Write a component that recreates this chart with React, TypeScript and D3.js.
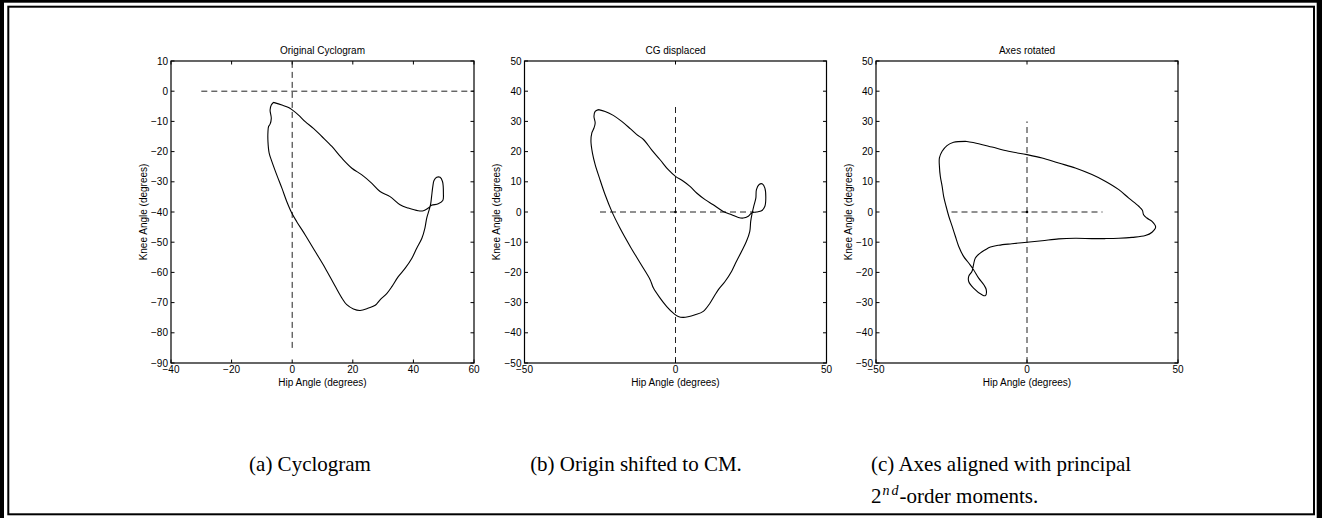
import React from "react";
import * as d3 from "d3";

// ---------- data ----------
const plotTitles = ["Original Cyclogram", "CG displaced", "Axes rotated"];
const xLabel = "Hip Angle (degrees)";
const yLabel = "Knee Angle (degrees)";

const xDomain1 = [-40, 60];
const yDomain1 = [-90, 10];
const xTicks1 = [-40, -20, 0, 20, 40, 60];
const yTicks1 = [-90, -80, -70, -60, -50, -40, -30, -20, -10, 0, 10];

const xDomain23 = [-50, 50];
const yDomain23 = [-50, 50];
const xTicks23 = [-50, 0, 50];
const yTicks23 = [-50, -40, -30, -20, -10, 0, 10, 20, 30, 40, 50];

// dashed reference lines: [x1, y1, x2, y2]
const refLines1 = [[-30, 0, 60, 0], [0, -85, 0, 10]];
const refLines2 = [[-25, 0, 26, 0], [0, -50, 0, 35]];
const refLines3 = [[-25, 0, 25, 0], [0, -50, 0, 30]];

const cyclogram1 = [
  [-6.2, -3.7], [-3.4, -4.6], [-1.2, -5.4], [0, -6.2], [2.1, -7.9], [4.3, -10.1], [7.0, -12.3],
  [9.8, -15.0], [13.1, -18.3], [16.4, -22.2], [19.7, -25.5], [23.0, -27.7], [26.3, -30.5],
  [29.0, -33.2], [32.3, -34.9], [35.6, -37.6], [38.3, -38.7], [41.6, -39.6], [43.3, -39.6],
  [44.9, -38.7], [46.0, -37.8], [48.2, -37.3], [49.7, -36.2], [49.9, -33.8], [49.6, -29.9],
  [48.8, -28.5], [47.7, -28.5], [46.8, -29.6], [46.4, -31.6], [46.0, -34.9], [45.7, -37.3],
  [45.2, -39.3], [44.4, -42.0], [43.8, -45.3], [42.8, -48.7], [41.1, -52.0], [39.5, -55.3],
  [37.3, -58.6], [35.0, -61.4], [32.9, -64.7], [31.2, -67.0], [29.0, -69.1], [27.4, -70.9],
  [25.2, -71.8], [22.4, -72.6], [20.2, -72.1], [18.0, -70.7], [16.6, -68.8], [14.2, -64.6],
  [10.9, -58.6], [7.6, -53.1], [4.3, -47.6], [1.5, -43.2], [-0.1, -40.4], [-1.8, -36.5],
  [-3.4, -32.1], [-5.1, -27.7], [-6.7, -23.3], [-7.6, -20.5], [-8.0, -16.7], [-8.0, -13.4],
  [-7.8, -11.7], [-7.3, -10.9], [-6.9, -9.0], [-7.3, -6.2], [-6.9, -4.6], [-6.2, -3.7],
];

const cyclogram2 = [
  [-25.5, 33.9], [-23.3, 33.3], [-20.6, 32.0], [-17.8, 30.0], [-15.0, 27.6], [-12.8, 25.6],
  [-10.6, 24.0], [-7.9, 20.6], [-5.1, 17.3], [-2.4, 14.0], [0, 11.8], [2.6, 10.2], [4.8, 8.5],
  [7.0, 6.3], [9.8, 4.1], [12.5, 2.4], [15.8, 0.2], [18.6, -0.9], [20.8, -1.8], [22.4, -2.0],
  [24.1, -1.4], [25.2, -0.3], [26.8, 0], [28.5, 0.4], [29.6, 1.9], [29.9, 4.6], [29.6, 7.9],
  [28.8, 9.3], [27.7, 9.1], [26.8, 7.4], [26.6, 4.6], [25.9, 1.9], [25.4, -0.3], [24.9, -3.1],
  [24.6, -6.4], [23.5, -9.7], [21.9, -13.0], [20.2, -16.3], [18.6, -19.6], [16.4, -23.0],
  [14.2, -25.7], [13.1, -27.4], [11.4, -30.2], [9.2, -32.9], [6.5, -34.0], [2.6, -34.9],
  [0.9, -34.6], [-0.7, -33.5], [-2.9, -31.3], [-5.1, -28.5], [-7.3, -25.2], [-8.4, -22.4],
  [-11.7, -16.9], [-15.0, -11.4], [-18.4, -5.3], [-21.1, 0.2], [-23.3, 5.7], [-25.2, 11.3],
  [-26.6, 15.7], [-27.5, 19.5], [-28.0, 23.4], [-27.7, 26.2], [-27.0, 27.8], [-26.6, 29.5],
  [-27.0, 31.7], [-26.6, 33.3], [-25.5, 33.9],
];

const cyclogram3 = [
  [-20.4, 23.4], [-16.0, 22.6], [-11.6, 21.5], [-6.1, 20.1], [0, 19.0], [5.0, 17.9],
  [10.5, 16.2], [16.0, 14.6], [21.5, 12.4], [25.9, 10.2], [30.4, 7.4], [33.7, 4.6],
  [37.0, 1.9], [38.2, 0.6], [38.6, -0.9], [39.7, -2.0], [41.4, -3.1], [42.6, -5.0],
  [41.4, -6.7], [39.2, -7.8], [34.8, -8.4], [30.4, -8.7], [25.9, -8.8], [21.5, -8.8],
  [16.0, -8.7], [10.5, -8.9], [5.0, -9.5], [0, -10.0], [-5.0, -10.5], [-9.4, -11.0],
  [-12.1, -11.6], [-13.8, -12.5], [-15.5, -13.6], [-17.1, -15.2], [-17.7, -17.4],
  [-18.2, -19.6], [-19.3, -21.3], [-19.3, -23.0], [-17.7, -25.2], [-14.9, -27.4],
  [-13.8, -27.7], [-13.5, -25.7], [-14.3, -24.1], [-16.0, -21.9], [-17.7, -19.1],
  [-19.3, -16.9], [-21.0, -14.7], [-22.6, -11.4], [-23.7, -8.1], [-24.8, -4.7],
  [-25.9, -1.4], [-26.8, 1.9], [-27.6, 5.2], [-28.1, 8.5], [-28.7, 11.8], [-29.0, 15.1],
  [-29.0, 17.9], [-28.1, 20.1], [-26.5, 22.0], [-24.3, 23.1], [-20.4, 23.4],
];

const captionA = "(a) Cyclogram";
const captionB = "(b) Origin shifted to CM.";
const captionC1 = "(c) Axes aligned with principal";
const captionC2a = "2";
const captionC2sup = "nd";
const captionC2b = "-order moments.";

// ---------- layout ----------
const W = 1322;
const H = 518;
const SANS = "'Liberation Sans', Arial, Helvetica, sans-serif";
const SERIF = "'Liberation Serif', 'Times New Roman', serif";

type PlotProps = {
  left: number; top: number; width: number; height: number;
  xDomain: number[]; yDomain: number[]; xTicks: number[]; yTicks: number[];
  title: string; data: number[][]; refs: number[][]; dot: boolean;
};

const fmt = (v: number) => (v < 0 ? "\u2212" + Math.abs(v) : String(v));

function Plot(p: PlotProps) {
  const x = d3.scaleLinear().domain(p.xDomain).range([p.left, p.left + p.width]);
  const y = d3.scaleLinear().domain(p.yDomain).range([p.top + p.height, p.top]);
  const line = d3.line<number[]>().x((d) => x(d[0])).y((d) => y(d[1])).curve(d3.curveCatmullRom.alpha(0.5));
  const tl = 3.5;
  const bottom = p.top + p.height;
  const right = p.left + p.width;
  return (
    <g>
      <text x={p.left + p.width / 2} y={p.top - 7.5} fontSize={10} fontFamily={SANS} textAnchor="middle">{p.title}</text>
      {p.refs.map((r, i) => (
        <line key={i} x1={x(r[0])} y1={y(r[1])} x2={x(r[2])} y2={y(r[3])} stroke="#222" strokeWidth={1} strokeDasharray="6,4" />
      ))}
      {p.dot && <circle cx={x(0)} cy={y(0)} r={1.3} fill="#000" />}
      <path d={line(p.data) || ""} fill="none" stroke="#000" strokeWidth={1.1} />
      <rect x={p.left} y={p.top} width={p.width} height={p.height} fill="none" stroke="#000" strokeWidth={1.2} />
      {p.xTicks.map((t) => (
        <g key={"x" + t}>
          <line x1={x(t)} x2={x(t)} y1={bottom} y2={bottom - tl} stroke="#000" />
          <line x1={x(t)} x2={x(t)} y1={p.top} y2={p.top + tl} stroke="#000" />
          <text x={x(t)} y={bottom + 10} fontSize={10} fontFamily={SANS} textAnchor="middle">{fmt(t)}</text>
        </g>
      ))}
      {p.yTicks.map((t) => (
        <g key={"y" + t}>
          <line x1={p.left} x2={p.left + tl} y1={y(t)} y2={y(t)} stroke="#000" />
          <line x1={right} x2={right - tl} y1={y(t)} y2={y(t)} stroke="#000" />
          <text x={p.left - 3} y={y(t) + 3.6} fontSize={10} fontFamily={SANS} textAnchor="end">{fmt(t)}</text>
        </g>
      ))}
      <text x={p.left + p.width / 2} y={bottom + 23} fontSize={10} fontFamily={SANS} textAnchor="middle">{xLabel}</text>
      <text transform={`translate(${p.left - 24.5},${p.top + p.height / 2}) rotate(-90)`} fontSize={10} fontFamily={SANS} textAnchor="middle">{yLabel}</text>
    </g>
  );
}

export default function App() {
  return (
    <svg width={W} height={H} style={{ position: "absolute", left: 0, top: 0, background: "#fff" }}>
      <rect x={0} y={0} width={W} height={H} fill="#fff" />
      {/* frame */}
      <rect x={0} y={0} width={4} height={H} fill="#000" />
      <rect x={0} y={0} width={W} height={2.7} fill="#000" />
      <rect x={1316.7} y={0} width={5.3} height={H} fill="#000" />
      <rect x={8.3} y={6.7} width={1305.7} height={507.6} fill="none" stroke="#000" strokeWidth={2} />

      <Plot left={171} top={61} width={303} height={302} xDomain={xDomain1} yDomain={yDomain1}
        xTicks={xTicks1} yTicks={yTicks1} title={plotTitles[0]} data={cyclogram1} refs={refLines1} dot={false} />
      <Plot left={524.5} top={61} width={302} height={302} xDomain={xDomain23} yDomain={yDomain23}
        xTicks={xTicks23} yTicks={yTicks23} title={plotTitles[1]} data={cyclogram2} refs={refLines2} dot={true} />
      <Plot left={876} top={61} width={302} height={302} xDomain={xDomain23} yDomain={yDomain23}
        xTicks={xTicks23} yTicks={yTicks23} title={plotTitles[2]} data={cyclogram3} refs={refLines3} dot={true} />

      <g fontFamily={SERIF} fontSize={21}>
        <text x={310} y={471} textAnchor="middle">{captionA}</text>
        <text x={636} y={471} textAnchor="middle">{captionB}</text>
        <text x={871} y={471}>{captionC1}</text>
        <text x={871} y={503}>
          <tspan>{captionC2a}</tspan>
          <tspan fontStyle="italic" fontSize={14} dy={-8} dx={1}>n</tspan>
          <tspan fontStyle="italic" fontSize={14} dx={2}>d</tspan>
          <tspan dy={8} dx={1}>{captionC2b}</tspan>
        </text>
      </g>
    </svg>
  );
}
